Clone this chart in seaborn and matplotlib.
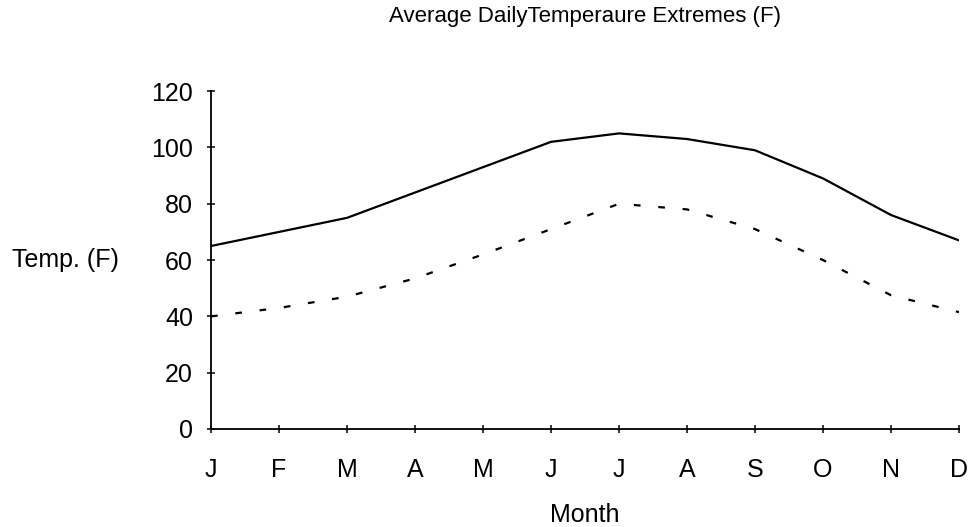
import pandas as pd
import matplotlib
matplotlib.use('Agg')
import matplotlib.pyplot as plt
import seaborn as sns

months = ['J', 'F', 'M', 'A', 'M', 'J', 'J', 'A', 'S', 'O', 'N', 'D']
high_temps = [65, 70, 75, 84, 93, 102, 105, 103, 99, 89, 76, 67]
low_temps = [40, 43, 47, 53.5, 62, 71, 80, 78, 71, 60, 47.5, 41.5]

df = pd.DataFrame({
    'Month': list(range(12)) * 2,
    'Temp': high_temps + low_temps,
    'Series': ['High'] * 12 + ['Low'] * 12,
})

sns.set_style('white')
plt.rcParams['font.family'] = ['Liberation Sans', 'DejaVu Sans']
plt.rcParams['text.color'] = 'black'
plt.rcParams['axes.labelcolor'] = 'black'

fig = plt.figure(figsize=(9.69, 5.27), dpi=100)
ax = fig.add_axes([0.2178, 0.186, 0.7719, 0.641])

sns.lineplot(x='Month', y='Temp', style='Series', data=df, ax=ax, color='black',
             linewidth=1.6, dashes={'High': '', 'Low': (3, 8)}, legend=False)

ax.set_xlim(0, 11)
ax.set_ylim(0, 120)
ax.set_xticks(range(12))
ax.set_xticklabels(months)
ax.set_yticks(range(0, 121, 20))

for side in ['top', 'right']:
    ax.spines[side].set_visible(False)
for side in ['left', 'bottom']:
    ax.spines[side].set_color('black')
    ax.spines[side].set_linewidth(1.3)

ax.tick_params(axis='both', bottom=True, left=True, direction='inout', length=6, width=1.1,
               colors='black', labelsize=18)
ax.tick_params(axis='y', pad=10)
ax.tick_params(axis='x', pad=18)

ax.set_xlabel('Month', fontsize=18, labelpad=15)
ax.set_ylabel('Temp. (F)', fontsize=18, rotation=0, ha='left', va='center')
ax.yaxis.set_label_coords(-0.266, 0.5)
ax.set_title('Average DailyTemperaure Extremes (F)', fontsize=16, pad=50)

fig.savefig('out.png', dpi=100)
